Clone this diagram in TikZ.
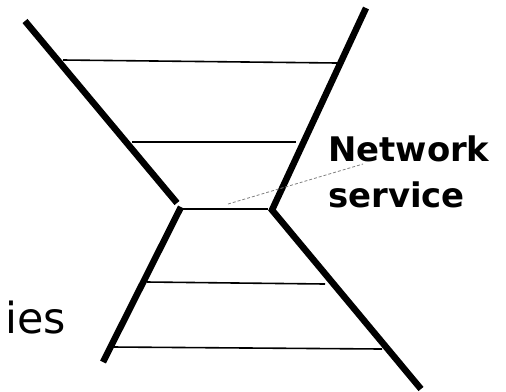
\documentclass[tikz,border=0pt]{standalone}
\usepackage{fontspec}
\setmainfont{DejaVu Sans}
\begin{document}
\begin{tikzpicture}[x=1bp,y=-1bp,
  wall/.style={line width=6.5bp},
  layer/.style={line width=1.6bp},
  waist/.style={line width=2.8bp},
  pointer/.style={gray,densely dashed,line width=0.8bp}]
\useasboundingbox (0,0) rectangle (506,391);
\coordinate (TL) at (25,21);
\coordinate (ML) at (177,203);
\coordinate (NL) at (181,207);
\coordinate (BL) at (103,362);
\coordinate (TR) at (366,8);
\coordinate (MR) at (272,210);
\coordinate (BR) at (421,389);

\draw[wall] (TL) -- (ML);% Upper left wall
\draw[wall] (NL) -- (BL);% Lower left wall
\draw[wall,line join=miter] (TR) -- (MR) -- (BR);% Right wall

\draw[layer] (63,60) -- (337,63);
\draw[layer] (132,142) -- (296,142);
\draw[waist] (183,209) -- (268,209);% Narrow waist
\draw[layer] (147,282) -- (325,284);
\draw[layer] (113,347) -- (382,349);

\node[font=\fontsize{34}{46}\selectfont\bfseries,align=left,anchor=north west,inner sep=0pt] (svc) at (328,136) {Network\\service};
\coordinate (tip) at (228,204);
\coordinate (lbl) at (363,164);
\draw[pointer] (tip) -- (lbl);

\node[font=\fontsize{43}{50}\selectfont,anchor=base east,inner sep=0pt] (ies) at (66,333) {ies};
\end{tikzpicture}
\end{document}
